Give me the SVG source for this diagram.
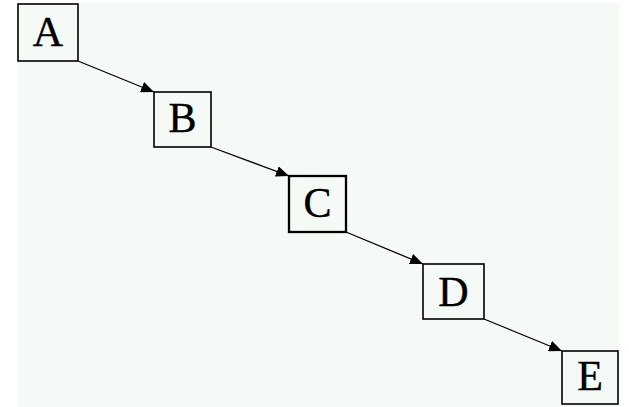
<svg xmlns="http://www.w3.org/2000/svg" width="629" height="407" viewBox="0 0 629 407">
<defs>
<style>
.box{fill:none;stroke:#000;stroke-width:1.6}
.lbl{font-family:"Liberation Serif","Times New Roman",serif;font-size:42px;fill:#000;stroke:#000;stroke-width:0.4;text-anchor:middle}
.edge{stroke:#000;stroke-width:1.3;fill:none;marker-end:url(#ah)}
</style>
<marker id="ah" markerWidth="13" markerHeight="11" refX="13" refY="5.5" orient="auto" markerUnits="userSpaceOnUse">
<path d="M0,0 L13,5.5 L0,11 Z" fill="#000"/>
</marker>
</defs>
<rect x="0" y="0" width="629" height="407" fill="#ffffff"/>
<rect x="18" y="3" width="601" height="404" fill="#f6faf7"/>
<g id="connectors">
<line class="edge" x1="78" y1="61" x2="154" y2="92"/>
<line class="edge" x1="211" y1="147" x2="289" y2="176"/>
<line class="edge" x1="346" y1="232" x2="423" y2="264"/>
<line class="edge" x1="484" y1="319" x2="562" y2="351"/>
</g>
<g id="A"><rect class="box" x="18" y="4" width="60" height="57"/><text class="lbl" x="48" y="46">A</text></g>
<g id="B"><rect class="box" x="154" y="92" width="57" height="55"/><text class="lbl" x="182.5" y="132">B</text></g>
<g id="C"><rect class="box" x="289" y="176" width="57" height="56" style="stroke-width:2.3"/><text class="lbl" x="317.5" y="217">C</text></g>
<g id="D"><rect class="box" x="423" y="264" width="61" height="55"/><text class="lbl" x="453.5" y="306">D</text></g>
<g id="E"><rect class="box" x="562" y="351" width="56" height="53"/><text class="lbl" x="590" y="390">E</text></g>
</svg>
